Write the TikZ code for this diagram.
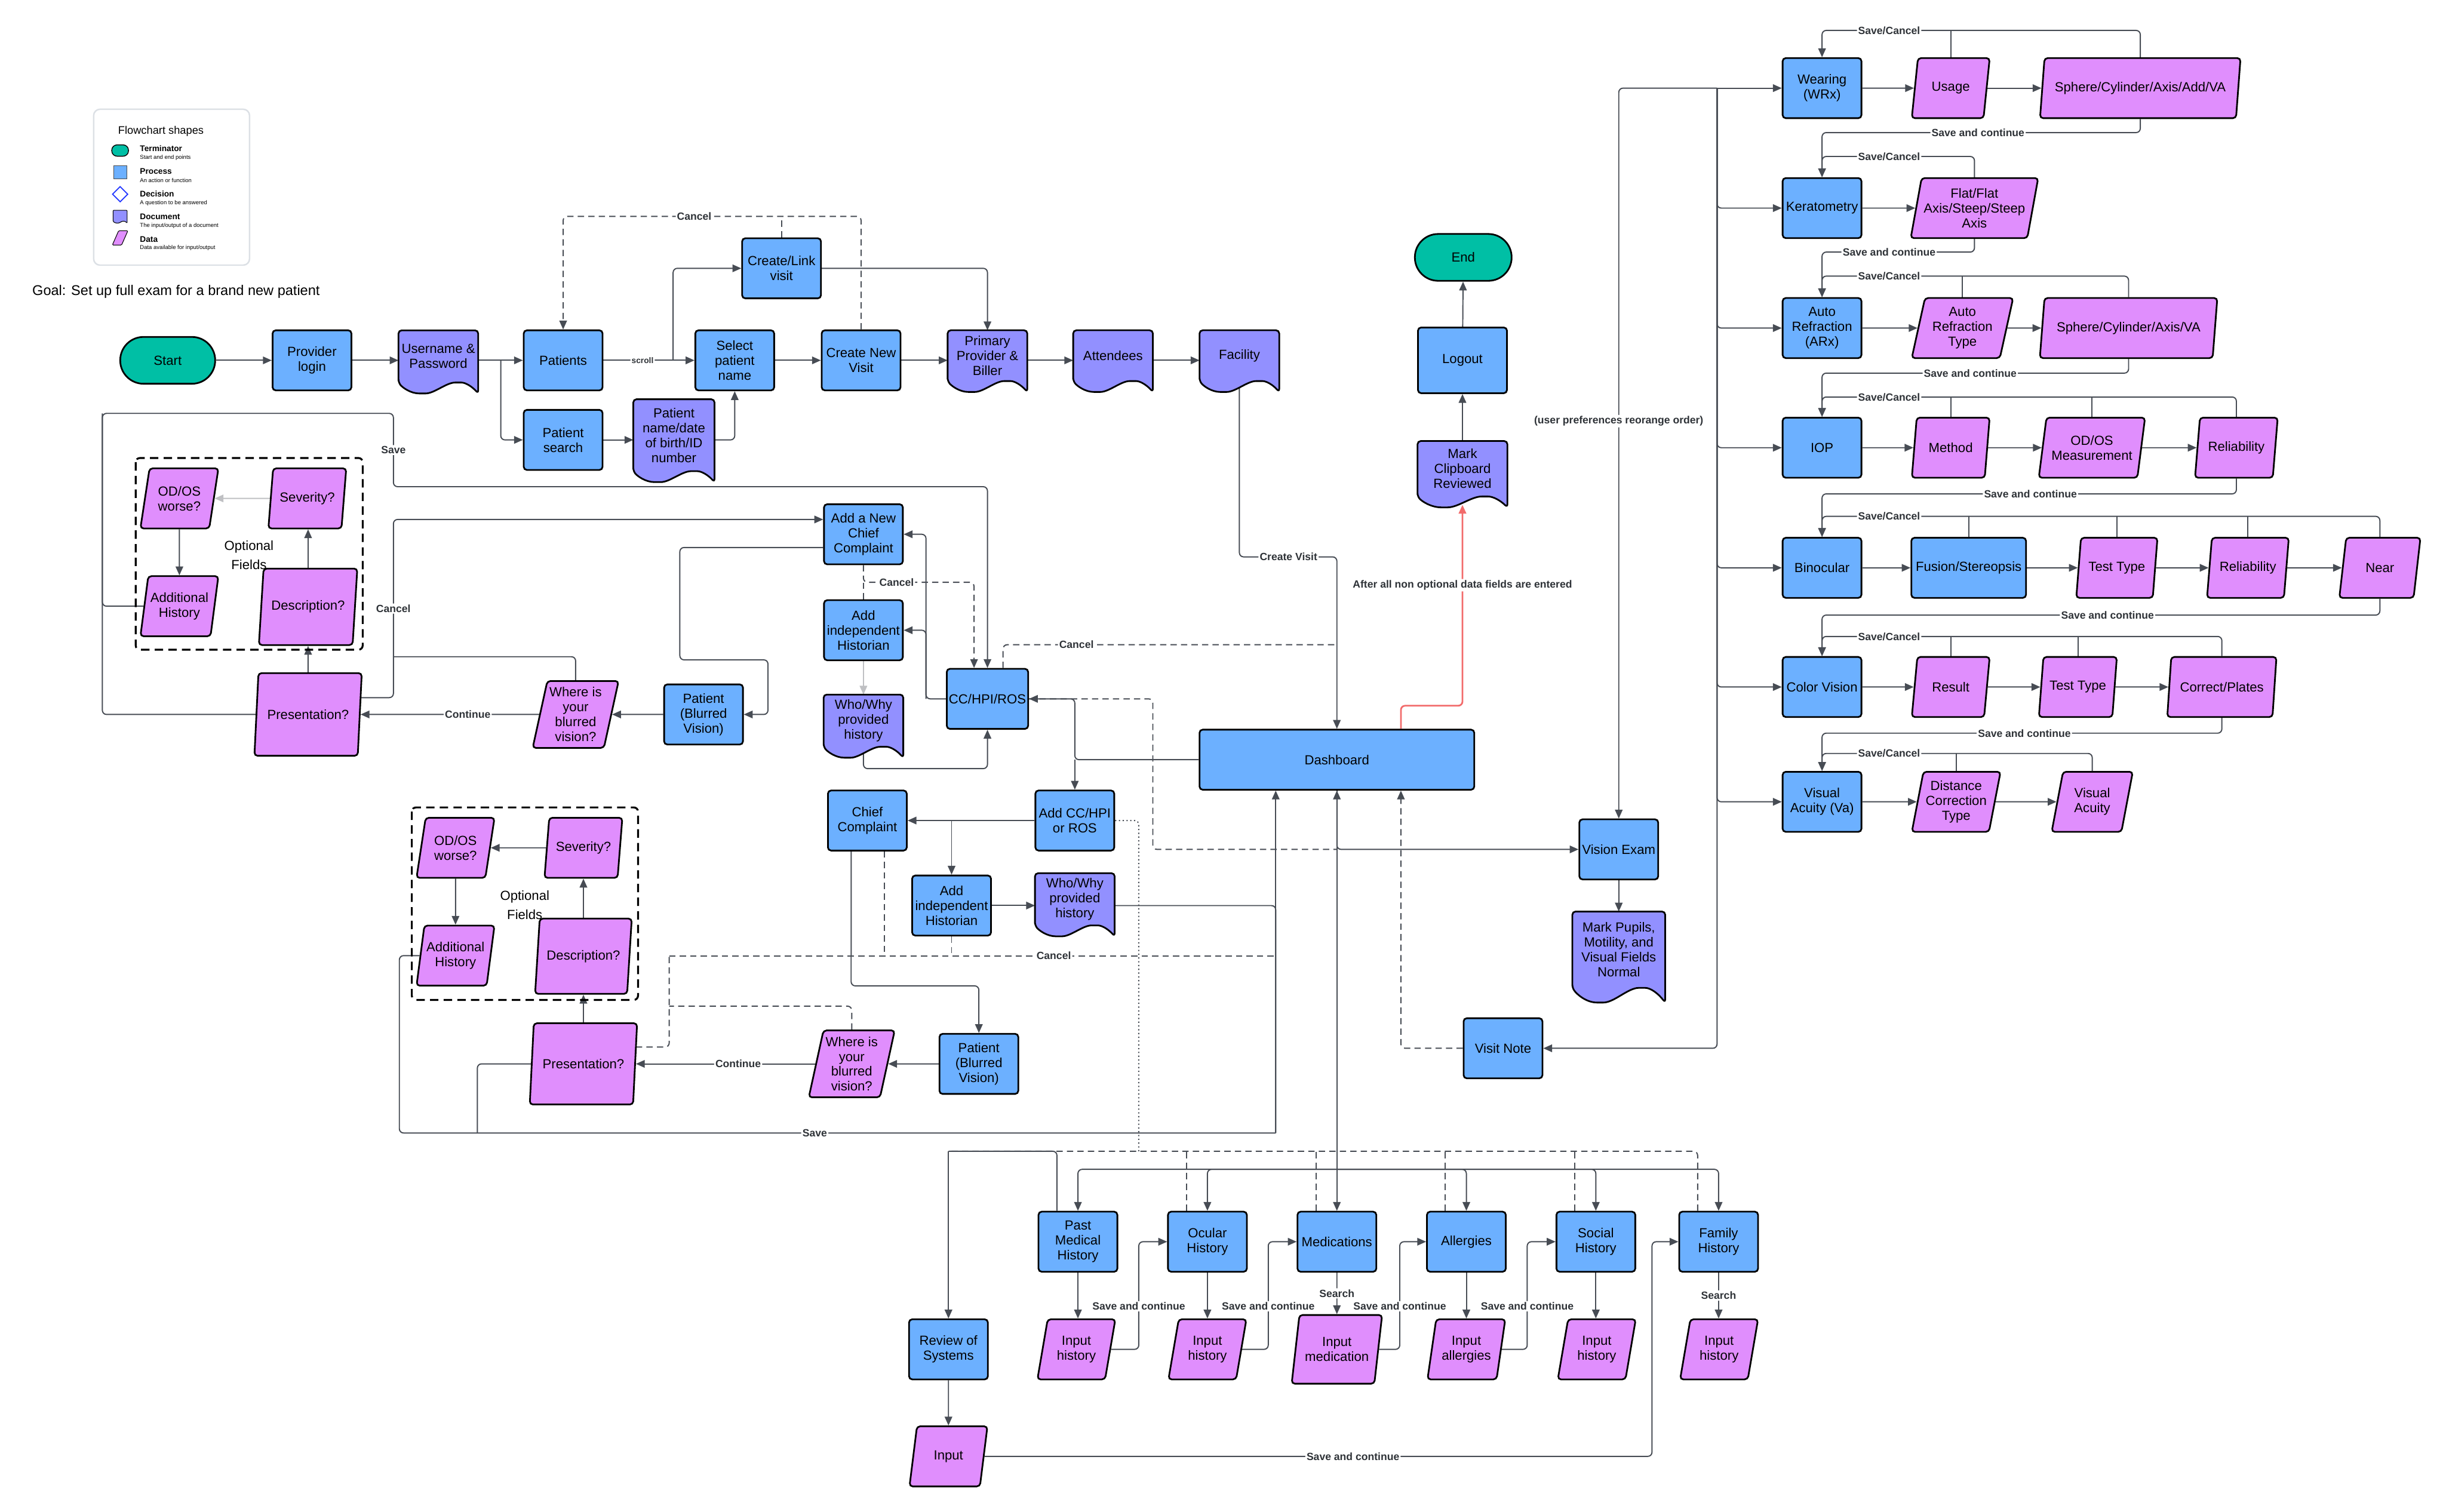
\documentclass[tikz,border=0pt]{standalone}
\usepackage{fontspec}
\setmainfont{Liberation Sans}
\usetikzlibrary{arrows.meta, positioning, shapes.geometric, calc}
\definecolor{procBlue}{HTML}{6CB0FF}
\definecolor{docPurple}{HTML}{9290FF}
\definecolor{dataPink}{HTML}{E08EFD}
\definecolor{termTeal}{HTML}{00BFA5}
\definecolor{lineGray}{HTML}{474C54}
\definecolor{labelGray}{HTML}{2F3338}
\definecolor{flagRed}{HTML}{F26B6B}
\definecolor{legendEdge}{HTML}{DCE0E5}
\newcommand{\boxfont}{\fontsize{6.3}{7.1}\selectfont}
\newcommand{\lblfont}{\fontsize{5}{6}\selectfont\bfseries}
\pgfdeclarelayer{edges}
\pgfdeclarelayer{docs}
\pgfsetlayers{edges,docs,main}
% document shape: rectangle with a wavy bottom under the node
\newcommand{\docshape}[3][]{%
  \filldraw[docframe,#1] let \p1=(#3.south west), \p2=(#3.north east), \n1={\x2-\x1}, \n2={#2} in
    (\x1,\y1) -- (\x1,\y2) -- (\x2,\y2) -- (\x2,{\y1-\n2})
    .. controls ({\x2-0.08*\n1},{\y1-0.35*\n2}) and ({\x1+0.84*\n1},\y1) .. ({\x1+0.75*\n1},\y1)
    .. controls ({\x1+0.6*\n1},\y1) and ({\x1+0.45*\n1},{\y1-\n2}) .. ({\x1+0.3*\n1},{\y1-\n2})
    .. controls ({\x1+0.15*\n1},{\y1-\n2}) and ({\x1+0.05*\n1},{\y1-0.45*\n2}) .. cycle;}

\begin{document}
\begin{tikzpicture}[x=0.2612mm, y=-0.2612mm,
  proc/.style={draw=black, line width=0.8pt, fill=procBlue, rounded corners=1.5pt, minimum width=13.2mm, minimum height=10.06mm, align=center, font=\boxfont, inner sep=1pt},
  term/.style={draw=black, line width=0.8pt, fill=termTeal, rounded corners=3.9mm, minimum width=15.9mm, minimum height=7.84mm, font=\boxfont},
  doc/.style={minimum width=13.2mm, minimum height=8.4mm, align=center, font=\boxfont, inner sep=1pt},
  docframe/.style={draw=black, line width=0.8pt, fill=docPurple, rounded corners=1.5pt},
  data/.style={trapezium, trapezium left angle=76, trapezium right angle=104, trapezium stretches=true, draw=black, line width=0.8pt, fill=dataPink, rounded corners=1.5pt, minimum width=13.06mm, minimum height=10.06mm, align=center, font=\boxfont, inner sep=1pt},
  line/.style={draw=lineGray, line width=0.55pt, rounded corners=2pt},
  arr/.style={line, -{Triangle[length=4.2pt,width=3.6pt]}},
  lightarr/.style={arr, draw=lineGray!35},
  dline/.style={line, dash pattern=on 3pt off 2pt},
  darr/.style={arr, dash pattern=on 3pt off 2pt},
  dotline/.style={line, dash pattern=on 0.6pt off 1.2pt},
  redarr/.style={arr, draw=flagRed, line width=0.8pt},
  lbl/.style={fill=white, inner sep=0.6pt, text=labelGray, font=\lblfont},
  optframe/.style={draw=black, line width=0.9pt, dash pattern=on 4pt off 2.5pt, rounded corners=2pt}
]
\useasboundingbox (0,0) rectangle (1568,969);

% legend
\node[draw=legendEdge, line width=0.7pt, rounded corners=3pt, minimum width=26.1mm, minimum height=26.1mm] (legend) at (110,120) {};
\node[anchor=west, font=\fontsize{5.2}{6}\selectfont] (legtitle) at (71,84) {Flowchart shapes};
\node[draw=black, line width=0.4pt, fill=termTeal, rounded corners=0.9mm, minimum width=2.8mm, minimum height=1.9mm, inner sep=0pt] (legterm) at (77,96.5) {};
\node[draw=black!70, line width=0.3pt, fill=procBlue, minimum size=2.2mm, inner sep=0pt] (legproc) at (77,110.5) {};
\node[diamond, draw=blue!70!procBlue, line width=0.5pt, fill=white, minimum size=2.6mm, inner sep=0pt] (legdec) at (77,124.5) {};
\node[doc, minimum width=2.2mm, minimum height=1.7mm, inner sep=0pt] (legdoc) at (77,138.3) {};
\node[data, minimum width=2.6mm, minimum height=2.2mm, line width=0.3pt, rounded corners=0.4pt, inner sep=0.4pt, font=\tiny] (legdata) at (77,152.5) {\strut};
\foreach \y/\t/\s in {95.3/Terminator/Start and end points, 110/Process/An action or function, 124.4/Decision/A question to be answered, 139/Document/{The input/output of a document}, 153.3/Data/{Data available for input/output}}{
  \node[anchor=west, font=\fontsize{3.9}{4.5}\selectfont\bfseries] at (85,\y) {\t};
  \node[anchor=west, font=\fontsize{2.7}{3}\selectfont] at (85,\y+5.6) {\s};
}
\node[anchor=west, font=\fontsize{6.7}{8}\selectfont] (goal) at (16,187) {Goal: Set up full exam for a brand new patient};

% login row
\node[term] (start) at (107.5,231) {Start};
\node[proc] (login) at (200,231) {Provider\\login};
\node[doc, minimum height=8.6mm] (userpw) at (281,228.5) {Username \&\\Password};
\node[proc] (patients) at (361,231) {Patients};
\node[proc] (psearch) at (361,282) {Patient\\search};
\node[doc, minimum width=13.45mm, minimum height=11.9mm] (ptname) at (432,279) {Patient\\name/date\\of birth/ID\\number};
\node[proc] (selname) at (471,231) {Select\\patient\\name};
\node[proc] (createlink) at (501,172) {Create/Link\\visit};
\node[proc] (newvisit) at (552,231) {Create New\\Visit};
\node[doc, minimum height=8.36mm] (primary) at (633,228) {Primary\\Provider \&\\Biller};
\node[doc, minimum height=8.36mm] (attend) at (713.5,228) {Attendees};
\node[doc, minimum height=8.36mm] (facility) at (794.5,228) {Facility};

% chief complaint, upper
\node[proc] (newcc) at (553.5,342.5) {Add a New\\Chief\\Complaint};
\node[proc] (histup) at (553.5,404) {Add\\independent\\Historian};
\node[doc, minimum height=8.6mm] (whyup) at (553.5,462) {Who/Why\\provided\\history};
\node[proc] (cchpi) at (633,448) {CC/HPI/ROS};
\node[data] (odosup) at (115,319.5) {OD/OS\\worse?};
\node[data] (sevup) at (197,319.5) {Severity?};
\node[data] (addhistup) at (115,388.6) {Additional\\History};
\node[data, minimum width=16.5mm, minimum height=12.8mm] (descup) at (197.5,389) {Description?};
\node[font=\boxfont, align=center] (optup) at (159.6,356) {Optional\\[2pt]Fields};
\node[data, minimum width=18mm, minimum height=13.84mm] (presup) at (197.5,458) {Presentation?};
\node[data, minimum width=14.4mm, minimum height=11.2mm] (whereup) at (369,458) {Where is\\your\\blurred\\vision?};
\node[proc] (ptbvup) at (451,458) {Patient\\(Blurred\\Vision)};
\draw[optframe] (87,293.6) rectangle (232.5,416.5);

% dashboard and chief complaint, lower
\node[proc, minimum width=46mm] (dashboard) at (857,487) {Dashboard};
\node[proc] (ccdown) at (556,526) {Chief\\Complaint};
\node[proc] (addcc) at (689,526) {Add CC/HPI\\or ROS};
\node[proc] (histdn) at (610,580.5) {Add\\independent\\Historian};
\node[doc, minimum height=8.6mm] (whydn) at (689,576.5) {Who/Why\\provided\\history};
\node[data] (odosdn) at (292,543.5) {OD/OS\\worse?};
\node[data] (sevdn) at (374,543.5) {Severity?};
\node[data] (addhistdn) at (292,612.6) {Additional\\History};
\node[data, minimum width=16.2mm, minimum height=12.6mm] (descdn) at (374,613) {Description?};
\node[font=\boxfont, align=center] (optdn) at (336.4,580) {Optional\\[2pt]Fields};
\node[data, minimum width=18mm, minimum height=13.6mm] (presdn) at (374,682) {Presentation?};
\node[data, minimum width=14.4mm, minimum height=11.2mm] (wheredn) at (546,682) {Where is\\your\\blurred\\vision?};
\node[proc] (ptbvdn) at (627.5,682) {Patient\\(Blurred\\Vision)};
\draw[optframe] (264,517.6) rectangle (409,641);

% closing column
\node[term, minimum width=16.2mm] (endnode) at (938,165) {End};
\node[proc, minimum width=14.9mm, minimum height=11mm] (logout) at (937.5,231) {Logout};
\node[doc, minimum width=14.9mm, minimum height=9.14mm] (clipboard) at (937.5,300.5) {Mark\\Clipboard\\Reviewed};
\node[proc] (vision) at (1037.7,544.5) {Vision Exam};
\node[doc, minimum width=15.4mm, minimum height=12.64mm] (pupils) at (1037.7,608.8) {Mark Pupils,\\Motility, and\\Visual Fields\\Normal};
\node[proc] (visitnote) at (963.5,672) {Visit Note};

% history row
\foreach \n/\x/\t in {pmh/691/{Past\\Medical\\History}, ocular/774/{Ocular\\History}, meds/857/Medications, allergy/940/Allergies, social/1023/{Social\\History}, family/1101.7/{Family\\History}}
  \node[proc] (\n) at (\x,796) {\t};
\foreach \n/\x/\t in {inpmh/690/{Input\\history}, inocular/774/{Input\\history}, inallergy/940/{Input\\allergies}, insocial/1023.6/{Input\\history}, infamily/1102/{Input\\history}}
  \node[data] (\n) at (\x,865) {\t};
\node[data, minimum width=15.15mm, minimum height=11.5mm] (inmeds) at (857,865) {Input\\medication};
\node[proc] (ros) at (608,865) {Review of\\Systems};
\node[data] (inros) at (608,933.6) {Input};

% vision exam rows
\foreach \n/\y/\t in {wearing/56.5/{Wearing\\(WRx)}, kerato/133.4/Keratometry, arx/210.3/{Auto\\Refraction\\(ARx)}, iop/287/IOP, binoc/364/Binocular, color/440.4/Color Vision, va/514/{Visual\\Acuity (Va)}}
  \node[proc] (\n) at (1168,\y) {\t};
\node[data] (usage) at (1250.5,56.5) {Usage};
\node[data, minimum width=33.7mm] (sphere1) at (1372,56.5) {Sphere/Cylinder/Axis/Add/VA};
\node[data, minimum width=21mm] (flat) at (1265.7,133.4) {Flat/Flat\\Axis/Steep/Steep\\Axis};
\node[data, minimum width=17mm] (artype) at (1258,210.3) {Auto\\Refraction\\Type};
\node[data, minimum width=29.8mm] (sphere2) at (1364.5,210.3) {Sphere/Cylinder/Axis/VA};
\node[data] (method) at (1250.5,287) {Method};
\node[data, minimum width=17.8mm] (odosm) at (1341,287) {OD/OS\\Measurement};
\node[data, minimum width=13.85mm] (relia1) at (1433.6,287) {Reliability};
\node[proc, minimum width=19.2mm] (fusion) at (1262,364) {Fusion/Stereopsis};
\node[data, minimum width=13.6mm] (testtype1) at (1357,364) {Test Type};
\node[data, minimum width=13.7mm] (relia2) at (1441,364) {Reliability};
\node[data, minimum width=13.6mm] (near) at (1525.6,364) {Near};
\node[data] (result) at (1250.5,440.4) {Result};
\node[data] (testtype2) at (1332,440.4) {Test Type};
\node[data, minimum width=18.3mm] (plates) at (1424.3,440.4) {Correct/Plates};
\node[data, minimum width=14.9mm] (dct) at (1254,514) {Distance\\Correction\\Type};
\node[data, minimum width=13.6mm] (vadata) at (1341.2,514) {Visual\\Acuity};

\begin{pgfonlayer}{docs}
  \foreach \d in {userpw, ptname, primary, attend, facility, whyup, whydn, clipboard}
    {\docshape{5.2pt}{\d}}
  \docshape{7pt}{pupils}
  \docshape[line width=0.3pt, rounded corners=0.3pt]{0.9pt}{legdoc}
\end{pgfonlayer}

% bend points
\coordinate (userfork) at (321,231);
\coordinate (scrollfork) at (431.5,231);
\coordinate (visitCancel) at (445,138.7);
\coordinate (saveA) at (65.6,265);
\coordinate (saveB) at (252.2,312);
\coordinate (cancelUp) at (252.2,333);
\coordinate (cancelJoin) at (252.2,421);
\coordinate (bvA) at (435.8,423);
\coordinate (bvB) at (492.3,458);
\coordinate (ccfork) at (593.6,448);
\coordinate (ccCancel) at (624.4,373.3);
\coordinate (dashCancel) at (857,413.3);
\coordinate (dashfork) at (689,487);
\coordinate (visdash) at (739,544.5);
\coordinate (visfork) at (857,544.5);
\coordinate (ccturn) at (545.6,632);
\coordinate (cancelDn) at (429,612.7);
\coordinate (cancelDn2) at (429,645);
\coordinate (saveL) at (256,726.3);
\coordinate (saveL2) at (306,726.3);
\coordinate (saveDn) at (817.8,726.3);
\coordinate (redbend) at (937.5,452.4);
\coordinate (histbus) at (857,749.6);
\coordinate (rosbus) at (608,738);
\coordinate (examtop) at (1100.7,56.5);

\begin{pgfonlayer}{edges}
  % login row
  \draw[arr] (start) -- (login);
  \draw[arr] (login) -- (login -| userpw.west);
  \draw[arr] (userpw.east |- patients) -- (patients);
  \draw[arr] (userfork) |- (psearch);
  \draw[arr] (patients) -- node[lbl, pos=0.43, font=\fontsize{3.9}{4.5}\selectfont\bfseries]{scroll} (selname);
  \draw[arr] (scrollfork) |- (createlink);
  \draw[arr] (psearch) -- (psearch -| ptname.west);
  \draw[arr] (ptname.east |- psearch) -| (selname.south);
  \draw[arr] (selname) -- (newvisit);
  \draw[arr] (newvisit) -- (newvisit -| primary.west);
  \draw[arr] (createlink) -| (primary.north);
  \draw[arr] (primary.east |- newvisit) -- (newvisit -| attend.west);
  \draw[arr] (attend.east |- newvisit) -- (newvisit -| facility.west);
  \draw[darr] (newvisit.north) |- (visitCancel) node[lbl]{Cancel} -| (patients.north);
  \draw[dline] (createlink.north) -- (createlink.north |- visitCancel);
  \draw[arr] (facility.south) |- (826,357) node[lbl]{Create Visit} -| (dashboard.north);

  % optional fields, upper
  \draw[lightarr] (sevup) -- (odosup);
  \draw[arr] (odosup) -- (addhistup);
  \draw[arr] (descup.north) -- (descup.north |- sevup.south);
  \draw[arr] (presup) -- (descup);
  \draw[arr] (whereup) -- node[lbl, pos=0.4]{Continue} (presup);
  \draw[arr] (ptbvup) -- (whereup);
  \draw[arr] (addhistup.west) -| (saveA) -| node[lbl, pos=0.75]{Save} (saveB) -| (cchpi.north);
  \draw[line] (presup.west) -| (saveA);
  \draw[arr] ([yshift=8pt]presup.center) -| node[lbl, pos=0.75]{Cancel} (cancelUp) -- (cancelUp -| newcc.west);
  \draw[line] (whereup.north) |- (cancelJoin);
  \draw[arr] ([yshift=-6.3pt]newcc.west) -| (bvA) -| (bvB) -- (ptbvup.east);

  % chief complaint, upper
  \draw[arr] (cchpi.west) -- (ccfork) |- (newcc.east);
  \draw[arr] (ccfork) |- (histup.east);
  \draw[lightarr] (histup) -- (whyup);
  \draw[arr] (whyup.south) -- ++(0,14) -| (cchpi.south);
  \draw[darr] (newcc.south) |- node[lbl, pos=0.65]{Cancel} (ccCancel) -- (ccCancel |- cchpi.north);
  \draw[dline] (histup.north) -- (histup.north |- ccCancel);
  \draw[dline] ([xshift=7.4pt]cchpi.north) |- node[lbl, pos=0.61]{Cancel} (dashCancel);

  % dashboard
  \draw[arr] (dashboard.west) -- (dashfork) |- (cchpi.east);
  \draw[arr] (dashfork) -- (addcc.north);
  \draw[dline] (cchpi.east) -| (visdash) -- (visfork);
  \draw[arr] (dashboard.south) |- (vision.west);
  \draw[redarr] ([xshift=30.5pt]dashboard.north) |- (redbend) -- node[lbl, pos=0.6]{After all non optional data fields are entered} ([yshift=-4pt]clipboard.south);
  \draw[arr] (clipboard.north) -- (logout);
  \draw[arr] (logout) -- (endnode);

  % chief complaint, lower
  \draw[arr] (addcc.west) -- (ccdown.east);
  \draw[arr] (histdn.north |- addcc.west) -- (histdn.north);
  \draw[arr] (histdn) -- (histdn -| whydn.west);
  \draw[line] ([yshift=-3pt]whydn.east) -| (saveDn);
  \draw[arr] (saveDn) -- (saveDn |- dashboard.south);
  \draw[dotline] (addcc.east) -| (rosbus -| 730,0);
  \draw[arr] ([xshift=-7.7pt]ccdown.south) -- (ccturn) -| (ptbvdn.north);
  \draw[dline] (cancelDn) -- node[lbl, pos=0.634]{Cancel} (cancelDn -| saveDn);
  \draw[dline] ([xshift=8.1pt]ccdown.south) -- ([xshift=8.1pt]ccdown.south |- cancelDn);
  \draw[dline] (histdn.south) -- (histdn.south |- cancelDn);
  \draw[dline] ([yshift=8pt]presdn.center) -| (cancelDn);
  \draw[dline] (wheredn.north) |- (cancelDn2);

  % optional fields, lower
  \draw[arr] (sevdn) -- (odosdn);
  \draw[arr] (odosdn) -- (addhistdn);
  \draw[arr] (descdn.north) -- (descdn.north |- sevdn.south);
  \draw[arr] (presdn) -- (descdn);
  \draw[arr] (wheredn) -- node[lbl, pos=0.43]{Continue} (presdn);
  \draw[arr] (ptbvdn) -- (wheredn);
  \draw[line] (addhistdn.west) -| (saveL) -- node[lbl, pos=0.474]{Save} (saveDn);
  \draw[line] (presdn.west) -| (saveL2);

  % history row
  \draw[arr] (dashboard.south) -- (meds.north);
  \draw[arr] (histbus) -- (dashboard.south);
  \foreach \b in {pmh, ocular, allergy, social, family}
    \draw[arr] (histbus) -| (\b.north);
  \draw[dline] ([xshift=-10pt]family.north) |- (rosbus);
  \foreach \b in {ocular, meds, allergy, social}
    \draw[dline] ([xshift=-10pt]\b.north) -- ([xshift=-10pt]\b.north |- rosbus);
  \draw[line] ([xshift=-10pt]pmh.north) |- (rosbus);
  \draw[arr] (rosbus) -- (ros.north);
  \foreach \b/\i in {pmh/inpmh, ocular/inocular, allergy/inallergy, social/insocial}
    \draw[arr] (\b.south) -- (\b.south |- \i.north);
  \draw[arr] (meds.south) -- node[lbl]{Search} (inmeds.north);
  \draw[arr] (family.south) -- node[lbl]{Search} (family.south |- infamily.north);
  \foreach \a/\b/\x in {inpmh/ocular/730, inocular/meds/813, inmeds/allergy/897.3, inallergy/social/979}
    \draw[arr] (\a.east) -| node[lbl, pos=0.7]{Save and continue} (\b.west -| \x,0) -- (\b.west);
  \draw[arr] (ros) -- (inros);
  \draw[arr] (inros.east) -| node[lbl, pos=0.276]{Save and continue} (family.west -| 1059,0) -- (family.west);

  % vision exam
  \draw[arr] (examtop) -- (wearing.west);
  \draw[arr] (examtop) -| node[lbl, pos=0.728]{(user preferences reorange order)} (vision.north);
  \foreach \e in {kerato, arx, iop, binoc, color, va}
    \draw[arr] (examtop) |- (\e.west);
  \draw[arr] (examtop) |- (visitnote.east);
  \draw[darr] (visitnote.west) -| ([xshift=30.5pt]dashboard.south);
  \draw[arr] (vision) -- (vision.south |- pupils.north);
  \foreach \a/\b in {wearing/usage, usage/sphere1, kerato/flat, arx/artype, artype/sphere2, iop/method, method/odosm, odosm/relia1, binoc/fusion, fusion/testtype1, testtype1/relia2, relia2/near, color/result, result/testtype2, testtype2/plates, va/dct, dct/vadata}
    \draw[arr] (\a) -- (\b);
  \foreach \e/\f/\ly/\others in {wearing/sphere1/19.5/{usage}, kerato/flat/100.3/{}, arx/sphere2/177/{artype}, iop/relia1/254.5/{method,odosm}, binoc/near/331/{fusion,testtype1,relia2}, color/plates/408/{result,testtype2}, va/vadata/483/{dct}}{
    \draw[arr] (\f.north) |- (1211,\ly) node[lbl]{Save/Cancel} -| (\e.north);
    \foreach \o in \others
      \draw[line] (\o.north) -- (\o.north |- 0,\ly);
  }
  \foreach \f/\e/\ly/\lx in {sphere1/kerato/85/1268, flat/arx/161.6/1211, sphere2/iop/239.2/1263, relia1/binoc/316.6/1301.6, near/color/394.3/1351, plates/va/470/1297.7}
    \draw[arr] (\f.south) |- (\lx,\ly) node[lbl]{Save and continue} -| (\e.north);
\end{pgfonlayer}
\end{tikzpicture}
\end{document}
